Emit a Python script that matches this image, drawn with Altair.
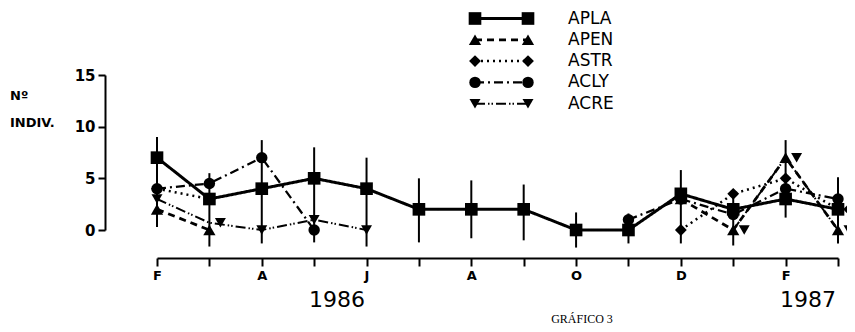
import altair as alt
import pandas as pd

months = ["F", "M", "A", "M", "J", "J", "A", "S", "O", "N", "D", "J", "F", "M"]
series = ["APLA", "APEN", "ASTR", "ACLY", "ACRE"]
N = None
APLA = [7, 3, 4, 5, 4, 2, 2, 2, 0, 0, 3.5, 2, 3, 2]
APEN = [2, 0, N, N, N, N, N, N, N, N, 3, 0, 7, 0]
ASTR = [4, 3, N, N, N, N, N, N, N, N, 0, 3.5, 5, 2]
ACLY = [4, 4.5, 7, 0, N, N, N, N, N, 1, 3, 1.5, 4, 3]
ACRE = [3, 0.7, 0, 1, 0, N, N, N, N, N, N, 0, 7, 0]
err_low = [0.3, -1.6, -1.3, -1.2, -1.6, -1.2, -0.8, -1.0, -1.7, -1.3, -1.3, -1.5, 1.2, -1.3]
err_high = [9, 5.5, 8.7, 8, 7, 5, 4.8, 4.4, 1.7, 1.6, 5.8, 3.9, 8.7, 5.1]
y_ticks = [0, 5, 10, 15]

rows = []
for s, vals in zip(series, [APLA, APEN, ASTR, ACLY, ACRE]):
    seg = 0
    for i, v in enumerate(vals):
        if v is None:
            seg += 1
            continue
        rows.append({"series": s, "idx": i, "value": v, "seg": f"{s}{seg}"})
df = pd.DataFrame(rows)
err_df = pd.DataFrame({"idx": list(range(len(months))), "lo": err_low, "hi": err_high})

label_expr = "datum.value % 2 == 0 ? " + str(months) + "[datum.value] : ''"

X = alt.X("idx:Q", title=None,
          scale=alt.Scale(domain=[0, len(months) - 1], nice=False, zero=False),
          axis=alt.Axis(values=list(range(len(months))), labelExpr=label_expr, offset=28,
                        tickSize=8, tickWidth=2, domainWidth=2, domainColor="black",
                        tickColor="black", labelColor="black", labelFontSize=13,
                        labelFontWeight="bold", labelFont="DejaVu Sans", labelPadding=3,
                        grid=False, labelFlush=False))
Yax = alt.Axis(values=y_ticks, offset=52, tickSize=7, tickWidth=2, domainWidth=2,
               domainColor="black", tickColor="black", labelColor="black", labelFontSize=15,
               labelFontWeight="bold", labelFont="DejaVu Sans", labelPadding=3, grid=False)
yscale = alt.Scale(domain=[0, 15], nice=False)

shape_sc = alt.Scale(domain=series, range=["square", "triangle-up", "diamond", "circle", "triangle-down"])
size_sc = alt.Scale(domain=series, range=[160, 120, 150, 110, 120])
dash_sc = alt.Scale(domain=series, range=[[1, 0], [7, 5], [2, 4], [9, 4, 2, 4], [10, 3, 1.5, 2, 1.5, 3]])
width_sc = alt.Scale(domain=series, range=[3, 2, 2, 2, 2])

err = alt.Chart(err_df).mark_rule(color="black", strokeWidth=2).encode(
    x=X, y=alt.Y("lo:Q", scale=yscale, axis=Yax, title=None), y2="hi:Q")

lines = alt.Chart(df).mark_line(color="black").encode(
    x=X, y=alt.Y("value:Q", scale=yscale, axis=Yax, title=None), detail="seg:N",
    strokeDash=alt.StrokeDash("series:N", scale=dash_sc, legend=None),
    strokeWidth=alt.StrokeWidth("series:N", scale=width_sc, legend=None))

shift_expr = "(datum.series=='ACRE' && (datum.idx==1 || datum.idx>=11)) || (datum.series=='ASTR' && datum.idx==13)"

pt_enc = dict(
    x=X, y=alt.Y("value:Q", scale=yscale, axis=Yax, title=None),
    shape=alt.Shape("series:N", scale=shape_sc, legend=None),
    size=alt.Size("series:N", scale=size_sc, legend=None))

pts = alt.Chart(df).mark_point(filled=True, color="black", opacity=1).encode(**pt_enc).transform_filter(
    "!(" + shift_expr + ")")
pts_shift = alt.Chart(df).mark_point(filled=True, color="black", opacity=1, xOffset=11).encode(
    **pt_enc).transform_filter(shift_expr)

leg_base = alt.Chart(pd.DataFrame({"series": series})).transform_calculate(
    py="-56.5 + 21.3 * indexof(" + str(series) + ", datum.series)")
leg_rule = leg_base.mark_rule(color="black").encode(
    x=alt.value(318), x2=alt.value(371), y=alt.Y("py:Q", scale=None, axis=None),
    strokeDash=alt.StrokeDash("series:N", scale=dash_sc, legend=None),
    strokeWidth=alt.StrokeWidth("series:N", scale=width_sc, legend=None))
leg_p1 = leg_base.mark_point(filled=True, color="black", opacity=1).encode(
    x=alt.value(318), y=alt.Y("py:Q", scale=None, axis=None),
    shape=alt.Shape("series:N", scale=shape_sc, legend=None),
    size=alt.Size("series:N", scale=size_sc, legend=None))
leg_p2 = leg_base.mark_point(filled=True, color="black", opacity=1).encode(
    x=alt.value(371), y=alt.Y("py:Q", scale=None, axis=None),
    shape=alt.Shape("series:N", scale=shape_sc, legend=None),
    size=alt.Size("series:N", scale=size_sc, legend=None))
leg_txt = leg_base.mark_text(align="left", baseline="middle", fontSize=17, font="DejaVu Sans",
                             color="black").encode(
    x=alt.value(411), y=alt.Y("py:Q", scale=None, axis=None), text="series:N")

one = pd.DataFrame({"a": [0]})


def txt(t, x, y, size, align="center", font="DejaVu Sans", weight="normal"):
    return alt.Chart(one).mark_text(text=t, align=align, baseline="middle", fontSize=size,
                                    font=font, fontWeight=weight, color="black").encode(
        x=alt.value(x), y=alt.value(y))


notes = [
    txt("Nº", -147, 21, 13, align="left", weight="bold"),
    txt("INDIV.", -147, 48, 13, align="left", weight="bold"),
    txt("1986", 180, 225, 22),
    txt("1987", 651, 225, 22),
    txt("GRÁFICO 3", 425, 244, 12, font="Liberation Serif"),
]

chart = alt.layer(err, lines, pts, pts_shift, leg_rule, leg_p1, leg_p2, leg_txt, *notes).properties(
    width=681, height=155,
    padding={"left": 149, "top": 67, "right": 9, "bottom": 100},
    autosize=alt.AutoSizeParams(type="none"),
).configure(background="white", view=alt.ViewConfig(stroke=None))

chart.save("out.html", embed_options={"renderer": "svg", "actions": False})
